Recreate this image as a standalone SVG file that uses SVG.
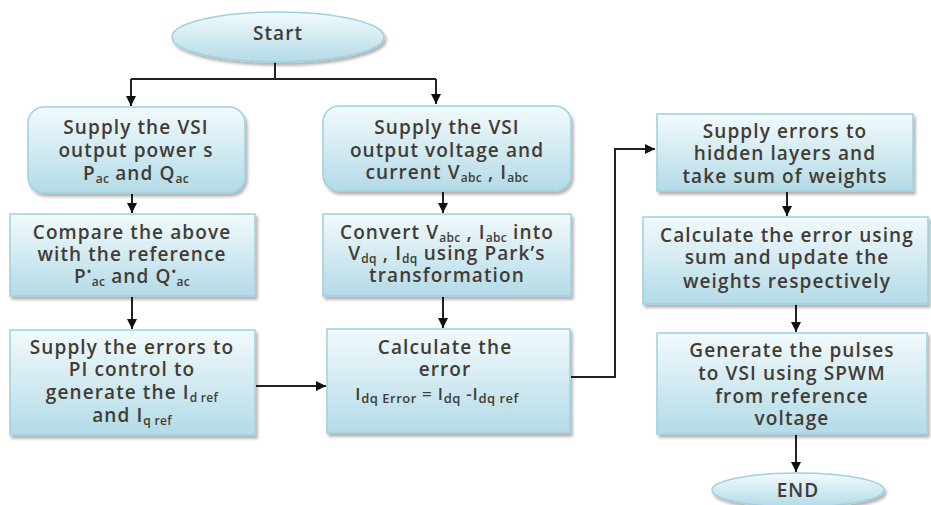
<svg xmlns="http://www.w3.org/2000/svg" width="931" height="505" viewBox="0 0 931 505">
<style>
.box{fill:url(#g);stroke:#9fd0df;stroke-width:1.5;filter:url(#sh)}
.t{font-family:"Open Sans","DejaVu Sans",sans-serif;font-weight:600;font-size:19px;letter-spacing:1.1px;fill:#433b34;text-anchor:middle}
.f{font-size:17px;letter-spacing:0.8px}
.s{font-size:12px;letter-spacing:0.3px}
.fs{font-size:13px;letter-spacing:0.5px}
.c{fill:none;stroke:#222;stroke-width:2}
</style>
<defs>
<linearGradient id="g" x1="0" y1="0" x2="0" y2="1">
<stop offset="0" stop-color="#f2fafc"/>
<stop offset="1" stop-color="#b3dbe7"/>
</linearGradient>
<filter id="sh" x="-10%" y="-10%" width="125%" height="130%">
<feDropShadow dx="2" dy="3" stdDeviation="1.5" flood-color="#000" flood-opacity="0.3"/>
</filter>
<marker id="a" markerUnits="userSpaceOnUse" markerWidth="12" markerHeight="12" refX="10" refY="5" orient="auto">
<path d="M0,0 L10,5 L0,10 z" fill="#111"/>
</marker>
</defs>
<g id="connectors">
<path class="c" d="M275,62 V79"/>
<path class="c" d="M131,79 H436"/>
<path class="c" d="M131,79 V106" marker-end="url(#a)"/>
<path class="c" d="M436,79 V104" marker-end="url(#a)"/>
<path class="c" d="M132,194 V213" marker-end="url(#a)"/>
<path class="c" d="M443,192 V213" marker-end="url(#a)"/>
<path class="c" d="M132,297 V329" marker-end="url(#a)"/>
<path class="c" d="M443,297 V328" marker-end="url(#a)"/>
<path class="c" d="M256,386 H326" marker-end="url(#a)"/>
<path class="c" d="M571,377 H615 V149 H655" marker-end="url(#a)"/>
<path class="c" d="M787,192 V216" marker-end="url(#a)"/>
<path class="c" d="M796,305 V332" marker-end="url(#a)"/>
<path class="c" d="M796,435 V472" marker-end="url(#a)"/>
</g>
<g id="start">
<ellipse class="box" cx="278" cy="37" rx="106" ry="25"/>
<text class="t" x="278" y="40">Start</text>
</g>
<g id="n1">
<rect class="box" x="28" y="107" width="217" height="86" rx="16"/>
<text class="t" x="136" y="134">Supply the VSI</text>
<text class="t" x="136" y="157">output power s</text>
<text class="t" x="136" y="180">P<tspan class="s" dy="3">ac</tspan><tspan dy="-3">  and Q</tspan><tspan class="s" dy="3">ac</tspan></text>
</g>
<g id="n2">
<rect class="box" x="323" y="106" width="248" height="85" rx="16"/>
<text class="t" x="447" y="134">Supply the VSI</text>
<text class="t" x="447" y="157">output voltage and</text>
<text class="t" x="447" y="179">current V<tspan class="s" dy="3">abc</tspan><tspan dy="-3"> , I</tspan><tspan class="s" dy="3">abc</tspan></text>
</g>
<g id="n3">
<rect class="box" x="10" y="214" width="245" height="82"/>
<text class="t" x="132" y="239">Compare the above</text>
<text class="t" x="132" y="261">with the reference</text>
<text class="t" x="132" y="283">P<tspan class="s" dy="-7">•</tspan><tspan class="s" dy="10">ac</tspan><tspan dy="-3">  and Q</tspan><tspan class="s" dy="-7">•</tspan><tspan class="s" dy="10">ac</tspan></text>
</g>
<g id="n4">
<rect class="box" x="323" y="214" width="248" height="82"/>
<text class="t" x="447" y="239">Convert V<tspan class="s" dy="3">abc</tspan><tspan dy="-3"> , I</tspan><tspan class="s" dy="3">abc</tspan><tspan dy="-3">  into</tspan></text>
<text class="t" x="447" y="260">V<tspan class="s" dy="3">dq</tspan><tspan dy="-3"> , I</tspan><tspan class="s" dy="3">dq</tspan><tspan dy="-3"> using Park’s</tspan></text>
<text class="t" x="447" y="282">transformation</text>
</g>
<g id="n5">
<rect class="box" x="10" y="330" width="245" height="105"/>
<text class="t" x="132" y="354">Supply the errors to</text>
<text class="t" x="132" y="376">PI control to</text>
<text class="t" x="132" y="399">generate the I<tspan class="s" dy="3">d ref</tspan></text>
<text class="t" x="132" y="422">and I<tspan class="s" dy="3">q ref</tspan></text>
</g>
<g id="n6">
<rect class="box" x="327" y="329" width="243" height="104"/>
<text class="t" x="445" y="354">Calculate the</text>
<text class="t" x="445" y="376">error</text>
<text class="t f" x="437" y="400">I<tspan class="fs" dy="3">dq Error</tspan><tspan dy="-3"> = I</tspan><tspan class="fs" dy="3">dq</tspan><tspan dy="-3"> -I</tspan><tspan class="fs" dy="3">dq ref</tspan></text>
</g>
<g id="n7">
<rect class="box" x="657" y="114" width="256" height="77"/>
<text class="t" x="785" y="138">Supply errors to</text>
<text class="t" x="785" y="160">hidden layers and</text>
<text class="t" x="785" y="183">take sum of weights</text>
</g>
<g id="n8">
<rect class="box" x="643" y="217" width="285" height="87"/>
<text class="t" x="787" y="242">Calculate the error using</text>
<text class="t" x="787" y="264">sum and update the</text>
<text class="t" x="787" y="288">weights respectively</text>
</g>
<g id="n9">
<rect class="box" x="657" y="333" width="270" height="101"/>
<text class="t" x="792" y="357">Generate the pulses</text>
<text class="t" x="792" y="380">to VSI using SPWM</text>
<text class="t" x="792" y="403">from reference</text>
<text class="t" x="792" y="425">voltage</text>
</g>
<g id="end">
<ellipse class="box" cx="798" cy="490" rx="86" ry="17"/>
<text class="t" x="798" y="497">END</text>
</g>
</svg>
